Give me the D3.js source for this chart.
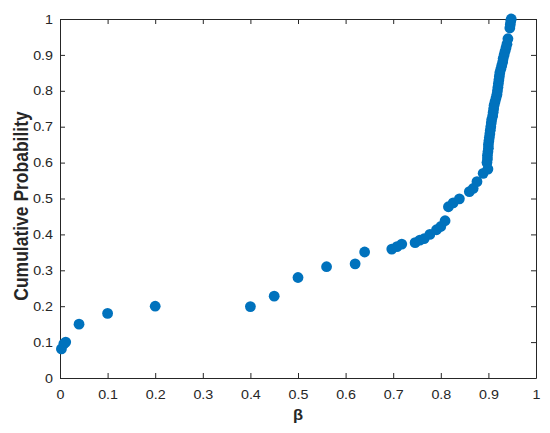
<!DOCTYPE html>
<html>
<head>
<meta charset="utf-8">
<script src="https://cdn.jsdelivr.net/npm/d3@7/dist/d3.min.js"></script>
<style>
  html, body { margin: 0; padding: 0; background: #fff; }
  svg { display: block; font-family: Arial, "Liberation Sans", sans-serif; }
  .tick text { transform-box: fill-box; }
</style>
</head>
<body>
<svg id="chart" width="550" height="433"></svg>
<script>
// Data: beta values and cumulative probabilities
const betaValues = [
  0.003, 0.008, 0.012, 0.040, 0.100, 0.200, 0.400, 0.450, 0.500, 0.560, 0.620, 0.640,
  0.697, 0.708, 0.718, 0.746, 0.756, 0.765, 0.777, 0.791, 0.800, 0.809,
  0.816, 0.826, 0.839, 0.860, 0.868, 0.876, 0.889, 0.899,
  0.897, 0.898, 0.898, 0.899, 0.900, 0.900, 0.901, 0.902, 0.903, 0.904, 0.905, 0.906,
  0.907, 0.909, 0.910, 0.911, 0.912, 0.914, 0.916, 0.918, 0.919, 0.920, 0.921, 0.922,
  0.923, 0.924, 0.926, 0.928, 0.930, 0.931, 0.933, 0.935, 0.937, 0.939, 0.941,
  0.945, 0.946, 0.947, 0.948
];
const cumulativeProb = [
  0.081, 0.095, 0.100, 0.150, 0.180, 0.200, 0.199, 0.228, 0.280, 0.310, 0.318, 0.351,
  0.359, 0.366, 0.373, 0.377, 0.384, 0.388, 0.400, 0.413, 0.422, 0.438,
  0.477, 0.488, 0.499, 0.519, 0.528, 0.547, 0.570, 0.582,
  0.600, 0.610, 0.620, 0.630, 0.640, 0.650, 0.660, 0.670, 0.680, 0.690, 0.700, 0.710,
  0.720, 0.730, 0.740, 0.750, 0.760, 0.770, 0.780, 0.790, 0.800, 0.810, 0.820, 0.830,
  0.840, 0.850, 0.860, 0.870, 0.880, 0.890, 0.900, 0.910, 0.920, 0.930, 0.945,
  0.975, 0.985, 0.995, 1.000
];
const xTicks = [0, 0.1, 0.2, 0.3, 0.4, 0.5, 0.6, 0.7, 0.8, 0.9, 1];
const yTicks = [0, 0.1, 0.2, 0.3, 0.4, 0.5, 0.6, 0.7, 0.8, 0.9, 1];
const xLabel = "β";
const yLabel = "Cumulative Probability";

const svg = d3.select("#chart");
const mLeft = 60, mRight = 536, mTop = 19, mBottom = 378;
const axisColor = "#262626";

const x = d3.scaleLinear().domain([0, 1]).range([mLeft, mRight]);
const y = d3.scaleLinear().domain([0, 1]).range([mBottom, mTop]);
const fmt = d => d3.format("~g")(d);

// bottom axis
const gx = svg.append("g").attr("transform", `translate(0,${mBottom})`)
  .call(d3.axisBottom(x).tickValues(xTicks).tickFormat(fmt).tickSizeInner(-5).tickSizeOuter(0).tickPadding(12));
// top axis (ticks only)
const gxt = svg.append("g").attr("transform", `translate(0,${mTop})`)
  .call(d3.axisTop(x).tickValues(xTicks).tickFormat("").tickSizeInner(-5).tickSizeOuter(0));
// left axis
const gy = svg.append("g").attr("transform", `translate(${mLeft},0)`)
  .call(d3.axisLeft(y).tickValues(yTicks).tickFormat(fmt).tickSizeInner(-5).tickSizeOuter(0).tickPadding(7));
// right axis (ticks only)
const gyr = svg.append("g").attr("transform", `translate(${mRight},0)`)
  .call(d3.axisRight(y).tickValues(yTicks).tickFormat("").tickSizeInner(-5).tickSizeOuter(0));

[gx, gxt, gy, gyr].forEach(g => {
  g.selectAll(".domain").attr("stroke", axisColor).attr("stroke-width", 1);
  g.selectAll(".tick line").attr("stroke", axisColor).attr("stroke-width", 1);
  g.selectAll(".tick text").attr("fill", axisColor).style("font-size", "13px")
    .style("font-family", "Arial, 'Liberation Sans', sans-serif")
    .style("transform", "scaleX(1.1)");
});
gx.selectAll(".tick text").style("transform-origin", "center");
gy.selectAll(".tick text").style("transform-origin", "right center");

// points
svg.append("g").selectAll("circle")
  .data(betaValues.map((b, i) => [b, cumulativeProb[i]]))
  .join("circle")
  .attr("cx", d => x(d[0]))
  .attr("cy", d => y(d[1]))
  .attr("r", 5.4)
  .attr("fill", "#0072BD");

// axis labels
svg.append("text")
  .attr("transform", `translate(${(mLeft + mRight) / 2},420) scale(1.1,1)`)
  .attr("text-anchor", "middle")
  .attr("fill", axisColor)
  .style("font-size", "15px").style("font-weight", "bold")
  .text(xLabel);

svg.append("text")
  .attr("transform", `translate(28,206) rotate(-90) scale(1,1.12)`)
  .attr("text-anchor", "middle")
  .attr("fill", axisColor)
  .style("font-size", "17.5px").style("font-weight", "bold")
  .text(yLabel);
</script>
</body>
</html>
